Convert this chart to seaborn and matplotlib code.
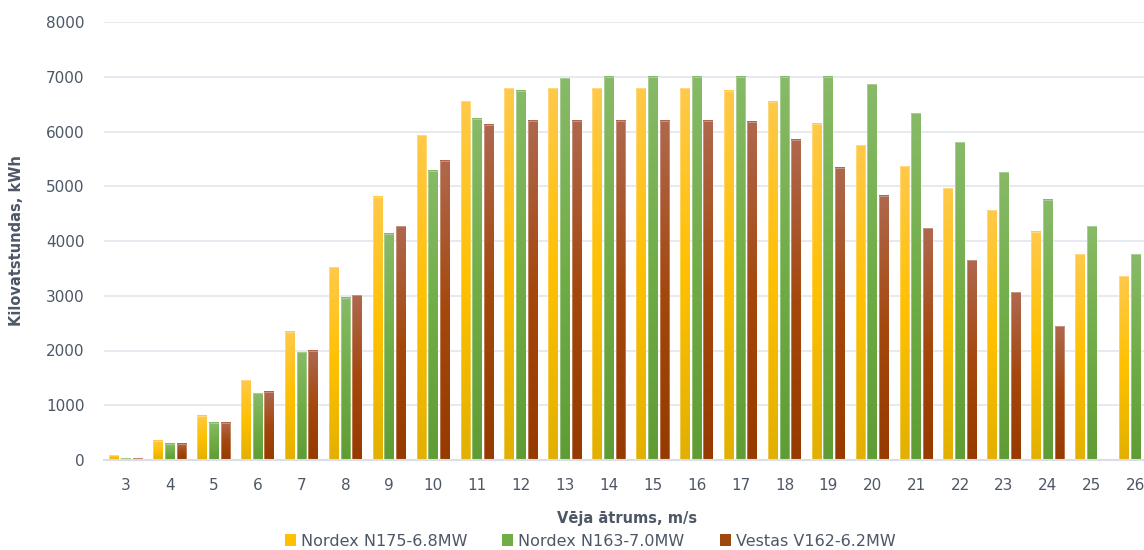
import numpy as np
import pandas as pd
import matplotlib.pyplot as plt
from matplotlib.colors import LinearSegmentedColormap
from matplotlib.patches import Patch
import seaborn as sns

# dati
speeds = list(range(3, 27))
series = ['Nordex N175-6.8MW', 'Nordex N163-7.0MW', 'Vestas V162-6.2MW']
n175 = [85, 350, 810, 1455, 2340, 3520, 4805, 5930, 6550, 6790, 6790, 6790,
        6790, 6790, 6740, 6545, 6145, 5745, 5365, 4965, 4565, 4165, 3755, 3355]
n163 = [30, 300, 680, 1215, 1965, 2960, 4135, 5285, 6230, 6740, 6975, 7000,
        7000, 7000, 7000, 7000, 7000, 6865, 6335, 5800, 5260, 4750, 4265, 3755]
v162 = [35, 300, 680, 1245, 1995, 3010, 4270, 5470, 6120, 6200, 6200, 6200,
        6200, 6200, 6175, 5845, 5340, 4830, 4235, 3650, 3060, 2445, np.nan, np.nan]

base_colors = ['#FFC000', '#70AD47', '#9E480E']
# apakša -> vidus -> augša (Excel gradients)
grad_colors = [['#E2B000', '#FFC000', '#FFC94A'],
               ['#5F9C34', '#70AD47', '#88BA68'],
               ['#963A00', '#A5480E', '#AF684E']]

df = pd.DataFrame({
    'speed': speeds * 3,
    'kwh': n175 + n163 + v162,
    'model': [series[0]] * 24 + [series[1]] * 24 + [series[2]] * 24,
})

sns.set_theme(style='white')
plt.rcParams['font.family'] = ['DejaVu Sans']
txt = '#4D5766'

fig = plt.figure(figsize=(11.44, 5.5), dpi=100)
ax = fig.add_axes([104 / 1144, 90 / 550, 1053.6 / 1144, 438 / 550])

sns.barplot(data=df, x='speed', y='kwh', hue='model', hue_order=series,
            palette=base_colors, width=0.8, gap=0.17, legend=False, ax=ax)

# gradienti katram stabiņam
grad = np.linspace(0, 1, 256).reshape(-1, 1)
for cont, cols in zip(ax.containers, grad_colors):
    cmap = LinearSegmentedColormap.from_list('g', cols)
    for rect in cont:
        h = rect.get_height()
        if not np.isfinite(h) or h <= 0:
            continue
        x, w = rect.get_x(), rect.get_width()
        ax.imshow(grad, extent=[x, x + w, 0, h], origin='lower', aspect='auto',
                  cmap=cmap, zorder=2, interpolation='bilinear')
        rect.set_facecolor('none')
        rect.set_edgecolor((1, 1, 1, 0.3))
        rect.set_linewidth(0.7)
        rect.set_zorder(3)

ax.set_xlim(-0.5, len(speeds) - 0.5)
ax.set_ylim(0, 8000)
ax.set_yticks(range(0, 8001, 1000))
ax.yaxis.grid(True, color='#E4E7EE', linewidth=1.3)
ax.set_axisbelow(True)
for s in ['top', 'right', 'left']:
    ax.spines[s].set_visible(False)
ax.spines['bottom'].set_color('#DADDE5')
ax.spines['bottom'].set_linewidth(1.5)

ax.tick_params(axis='both', length=0, labelsize=11, labelcolor=txt)
ax.tick_params(axis='y', pad=14)
ax.tick_params(axis='x', pad=13)

ax.set_xlabel('Vēja ātrums, m/s', fontsize=10.5, fontweight='bold', color=txt)
ax.xaxis.set_label_coords((627 - 104) / 1053.6, -58 / 438)
ax.xaxis.label.set_va('center')
ax.set_ylabel('Kilovatstundas, kWh', fontsize=10.5, fontweight='bold', color=txt)
ax.yaxis.set_label_coords(-87 / 1053.6, 0.5)
ax.yaxis.label.set_va('center')

handles = [Patch(facecolor=c, edgecolor='none') for c in base_colors]
fig.legend(handles, series, loc='center', bbox_to_anchor=(590 / 1144, 9 / 550),
           ncol=3, frameon=False, fontsize=11.5, handlelength=0.7, handleheight=0.7,
           handletextpad=0.3, columnspacing=2.2, labelcolor=txt)

fig.savefig('out.png', dpi=100)
